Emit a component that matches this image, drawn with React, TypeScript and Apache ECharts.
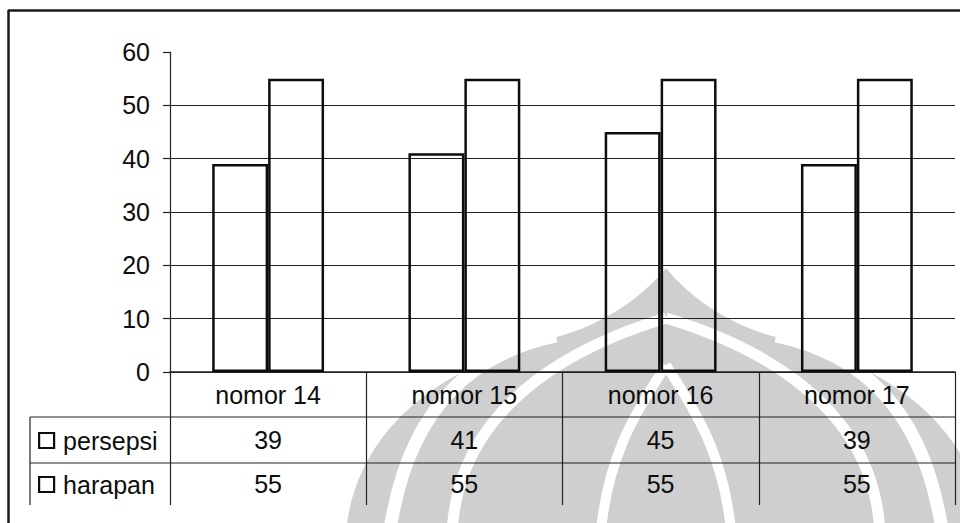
import React, { useEffect, useRef } from 'react';
import * as echarts from 'echarts';

const categories = ['nomor 14', 'nomor 15', 'nomor 16', 'nomor 17'];
const persepsi = [39, 41, 45, 39];
const harapan = [55, 55, 55, 55];
const seriesNames = ['persepsi', 'harapan'];
const yMin = 0;
const yMax = 60;
const yStep = 10;

const FONT = "'Liberation Sans', Arial, Helvetica, sans-serif";
const INK = '#0d0d0d';
const LINE = '#222';
const WM = '#cfcfcf';

// layout
const W = 960;
const H = 523;
const GRID_LEFT = 170;
const GRID_RIGHT = 5;
const GRID_TOP = 52;
const GRID_BOTTOM = 151;
const TABLE_LEFT = 30;
const ROW_H = [45, 46, 42];

// watermark (scanned logo) outline
const CX = 666;
const mx = (x: number) => 2 * CX - x;
const wmD = `M ${CX} 268 C 640 300 600 325 560 336 C 440 365 350 430 345 545 L ${mx(345)} 545 C ${mx(350)} 430 ${mx(440)} 365 ${mx(560)} 336 C ${mx(600)} 325 ${mx(640)} 300 ${CX} 268 Z`;
let registered = false;
function registerWm() {
  if (registered) return;
  echarts.graphic.registerShape('wmFlame', echarts.graphic.extendPath(wmD, {}));
  registered = true;
}

function band(x1: number, y1: number, c1x: number, c1y: number, c2x: number, c2y: number, x2: number, y2: number, lw: number) {
  return [
    {
      type: 'bezierCurve', silent: true, z: -9,
      shape: { x1, y1, cpx1: c1x, cpy1: c1y, cpx2: c2x, cpy2: c2y, x2, y2 },
      style: { stroke: '#fff', lineWidth: lw, fill: null },
    },
    {
      type: 'bezierCurve', silent: true, z: -9,
      shape: { x1: mx(x1), y1, cpx1: mx(c1x), cpy1: c1y, cpx2: mx(c2x), cpy2: c2y, x2: mx(x2), y2 },
      style: { stroke: '#fff', lineWidth: lw, fill: null },
    },
  ];
}

export default function App() {
  const ref = useRef<HTMLDivElement>(null);

  useEffect(() => {
    if (!ref.current) return;
    registerWm();
    const chart = echarts.init(ref.current, undefined, { renderer: 'svg' });
    const values = [persepsi, harapan];

    const option: any = {
      animation: false,
      backgroundColor: '#fff',
      grid: { left: GRID_LEFT, right: GRID_RIGHT, top: GRID_TOP, bottom: GRID_BOTTOM, containLabel: false },
      legend: {
        data: seriesNames,
        orient: 'vertical',
        left: 38,
        top: 428,
        padding: 0,
        itemGap: 19,
        itemWidth: 15,
        itemHeight: 15,
        icon: 'rect',
        selectedMode: false,
        itemStyle: { color: '#fff', borderColor: INK, borderWidth: 2.2 },
        textStyle: { fontFamily: FONT, fontSize: 25, color: INK, padding: [0, 0, 0, 4] },
      },
      xAxis: {
        type: 'category',
        data: categories,
        axisLine: { show: true, lineStyle: { color: LINE, width: 1.5 } },
        axisTick: { show: true, length: ROW_H[0] + ROW_H[1] + ROW_H[2], lineStyle: { color: LINE, width: 1.2 } },
        axisLabel: { fontFamily: FONT, fontSize: 25, color: INK, margin: ROW_H[0] / 2, verticalAlign: 'middle' },
        splitLine: { show: false },
      },
      yAxis: {
        type: 'value',
        min: yMin,
        max: yMax,
        interval: yStep,
        axisLine: { show: true, lineStyle: { color: LINE, width: 1.2 } },
        axisTick: { show: true, length: 7, lineStyle: { color: LINE, width: 1.2 } },
        axisLabel: { fontFamily: FONT, fontSize: 25, color: INK, margin: 20 },
        splitLine: { show: true, showMaxLine: false, lineStyle: { color: LINE, width: 1 } },
      },
      series: seriesNames.map((name, k) => ({
        name,
        type: 'bar',
        data: values[k],
        barGap: '0%',
        barCategoryGap: '43%',
        itemStyle: { color: 'rgba(255,255,255,0)', borderColor: INK, borderWidth: 2.5 },
        z: 3,
      })),
    };
    chart.setOption(option);

    const axisY = chart.convertToPixel({ yAxisIndex: 0 }, yMin) as number;
    const row1Top = axisY + ROW_H[0];
    const row2Top = row1Top + ROW_H[1];
    const tableBottom = row2Top + ROW_H[2];
    const rightX = W - GRID_RIGHT;
    const rowCenters = [row1Top + ROW_H[1] / 2, row2Top + ROW_H[2] / 2];

    const elements: any[] = [
      // watermark
      { type: 'wmFlame', x: 0, y: 0, silent: true, z: -10, style: { fill: WM } },
      ...band(556, 336, 480, 352, 405, 400, 388, 545, 13),
      ...band(CX, 318, 610, 335, 450, 390, 452, 545, 11),
      ...band(CX, 365, 645, 400, 605, 450, 600, 545, 10),
      // outer frame of the scanned figure
      { type: 'line', silent: true, z: 5, shape: { x1: 8, y1: 10.5, x2: W, y2: 10.5 }, style: { stroke: '#1a1a1a', lineWidth: 2.5 } },
      { type: 'line', silent: true, z: 5, shape: { x1: 8.5, y1: 10, x2: 8.5, y2: H }, style: { stroke: '#1a1a1a', lineWidth: 2.5 } },
      // data table rules
      { type: 'line', silent: true, z: 5, shape: { x1: TABLE_LEFT, y1: row1Top, x2: rightX, y2: row1Top }, style: { stroke: LINE, lineWidth: 1.2 } },
      { type: 'line', silent: true, z: 5, shape: { x1: TABLE_LEFT, y1: row2Top, x2: rightX, y2: row2Top }, style: { stroke: LINE, lineWidth: 1.2 } },
      { type: 'line', silent: true, z: 5, shape: { x1: TABLE_LEFT, y1: row1Top, x2: TABLE_LEFT, y2: tableBottom }, style: { stroke: LINE, lineWidth: 1.2 } },
    ];

    values.forEach((vals, s) => {
      vals.forEach((v, i) => {
        const x = chart.convertToPixel({ xAxisIndex: 0 }, categories[i]) as number;
        elements.push({
          type: 'text',
          silent: true,
          z: 6,
          x,
          y: rowCenters[s],
          style: {
            text: String(v),
            fontFamily: FONT,
            fontSize: 25,
            fill: INK,
            align: 'center',
            verticalAlign: 'middle',
          },
        });
      });
    });

    chart.setOption({ graphic: { elements } });

    return () => {
      chart.dispose();
    };
  }, []);

  return <div ref={ref} style={{ position: 'fixed', left: 0, top: 0, width: W, height: H }} />;
}
